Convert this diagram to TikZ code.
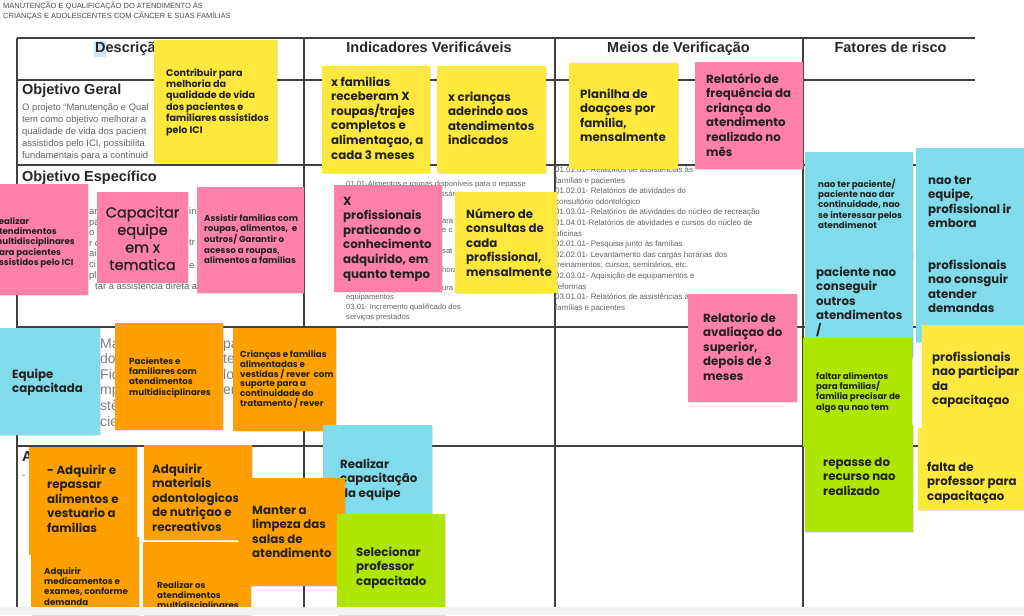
\documentclass[tikz,border=0pt]{standalone}
\usepackage{fontspec}
\setmainfont{Liberation Sans}
\newfontfamily\nf{Poppins}
\newfontfamily\nfm{Poppins}[FakeBold=0.9]
\usetikzlibrary{shadows}
\definecolor{ny}{HTML}{FFE83D}
\definecolor{np}{HTML}{FF80AA}
\definecolor{no}{HTML}{FF9F00}
\definecolor{nb}{HTML}{80DCEA}
\definecolor{ng}{HTML}{AEE600}
\definecolor{nt}{HTML}{222222}
\definecolor{tl}{HTML}{404040}
\definecolor{gt}{HTML}{5F6368}
\definecolor{strip}{HTML}{F1F3F4}
\definecolor{hl}{HTML}{D2E3FC}
\newcommand\mynote[6]{\node[note,fill=#2,anchor=north west,minimum width={(#5-#3)*1pt},minimum height={(#6-#4)*1pt}] (#1) at (#3,#4) {};}
\tikzset{
  note/.style={draw=none,inner sep=0pt,outer sep=0pt,drop shadow={shadow xshift=0.7pt,shadow yshift=-1.2pt,opacity=0.22}},
  bigt/.style={font=\nf\bfseries\fontsize{11.8}{14.6}\selectfont,align=left,anchor=base west,inner sep=0pt,text=nt},
  midt/.style={font=\nf\bfseries\fontsize{9.6}{11.4}\selectfont,align=left,anchor=base west,inner sep=0pt,text=nt},
  smallt/.style={font=\nf\bfseries\fontsize{8.7}{10.2}\selectfont,align=left,anchor=base west,inner sep=0pt,text=nt},
  hugt/.style={font=\nfm\fontsize{14.5}{17.5}\selectfont,align=center,anchor=base,inner sep=0pt,text=nt},
  tline/.style={draw=tl,line width=1.2pt},
  head/.style={font=\bfseries\fontsize{14.5}{17}\selectfont,anchor=base,inner sep=0pt,text=black!85},
  rowh/.style={font=\bfseries\fontsize{14.5}{17}\selectfont,anchor=base west,inner sep=0pt,text=black!85},
  body/.style={font=\fontsize{9.4}{12.2}\selectfont,align=left,anchor=base west,inner sep=0pt,text=gt},
  frag/.style={font=\fontsize{9.4}{10.6}\selectfont,align=left,anchor=base west,inner sep=0pt,text=gt},
  bigfrag/.style={font=\fontsize{14}{15.6}\selectfont,align=left,anchor=base west,inner sep=0pt,text=gray},
  tiny/.style={font=\fontsize{7.6}{9.8}\selectfont,align=left,anchor=base west,inner sep=0pt,text=gt},
  meios/.style={font=\fontsize{7.9}{10.6}\selectfont,align=left,anchor=base west,inner sep=0pt,text=gt},
  ttl/.style={font=\fontsize{7.5}{10}\selectfont,align=left,anchor=base west,inner sep=0pt,text=black!70}
}
\begin{document}
\begin{tikzpicture}[x=1pt,y=-1pt]
\useasboundingbox (0,0) rectangle (1024,615);
\clip (0,0) rectangle (1024,615);
\fill[white] (0,0) rectangle (1024,615);
% title (anchor = baseline of last line)
\node[ttl] (title) at (3,18.5) {MANUTENÇÃO E QUALIFICAÇÃO DO ATENDIMENTO ÀS\\CRIANÇAS E ADOLESCENTES COM CÂNCER E SUAS FAMÍLIAS};
% table grid
\draw[tline] (17,38) -- (975,38);
\foreach \yy in {80,165,327,446} \draw[tline] (17,\yy) -- (975,\yy);
\foreach \xx in {17,304,555,803} \draw[tline] (\xx,38) -- (\xx,607);
% headers
\fill[hl] (94,41) rectangle (106,57);
\node[rowh] (hdesc) at (95,53) {Descrição};
\node[head] (hind) at (429,53) {Indicadores Verificáveis};
\node[head] (hmeios) at (678.5,53) {Meios de Verificação};
\node[head] (hfat) at (890.5,53) {Fatores de risco};
% row labels and body text
\node[rowh] (og) at (22,95) {Objetivo Geral};
\node[body] (ogtext) at (22,158.8) {O projeto “Manutenção e Qual\\tem como objetivo melhorar a\\qualidade de vida dos pacient\\assistidos pelo ICI, possibilita\\fundamentais para a continuid};
\node[rowh] (oe) at (22,181.5) {Objetivo Específico};
\node[frag] (fa) at (89,278.1) {ar\\pa\\o\\r o\\ai\\ci\\pl};
\node[frag] (fb) at (189,214.5) {in};
\node[frag] (fc) at (189,245.5) {tr};
\node[frag] (fd) at (189,268.5) {e};
\node[frag] (fe) at (95,289.5) {tar a assistência direta aos};
\node[bigfrag] (rf1) at (100,426) {Ma\\dos\\Fid\\mp\\stê\\cie};
\node[bigfrag] (rf2) at (223,394.8) {pa\\te\\lo\\erv};
\node[rowh] (act) at (22,461) {A};
\node[body] (dash) at (22,478) {-};
% indicadores row 2 text
\node[tiny] (i1) at (346,186) {01.01-Alimentos e roupas disponíveis para o repasse};
\node[tiny] (i2) at (424,196) {necessários};
\node[tiny] (i3) at (442,223) {ara};
\node[tiny] (i4) at (442,232.5) {e c};
\node[tiny] (i5) at (442,253) {sat};
\node[tiny] (i6) at (442,272.5) {hora};
\node[tiny] (i7) at (442,290.5) {ura e};
\node[tiny] (i8) at (346,319.1) {equipamentos\\03.01- Incremento qualificado dos\\serviços prestados};
% meios row 2 text
\node[meios] (m1) at (555,310.3) {01.01.01- Relatórios de assistências às\\famílias e pacientes\\01.02.01- Relatórios de atividades do\\consultório odontológico\\01.03.01- Relatórios de atividades do núcleo de recreação\\01.04.01-Relatórios de atividades e cursos do núcleo de\\oficinas\\02.01.01- Pesquisa junto às famílias\\02.02.01- Levantamento das cargas horárias dos\\treinamentos, cursos, seminários, etc.\\02.03.01- Aquisição de equipamentos e\\reformas\\03.01.01- Relatórios de assistências às\\famílias e pacientes};
% ---- sticky notes ----
\mynote{n1}{ny}{154}{40}{277}{163}
\node[midt] (n1t) at (166,133) {Contribuir para\\melhoria da\\qualidade de vida\\dos pacientes e\\familiares assistidos\\pelo ICI};
\mynote{n2}{ny}{322}{66}{430}{173}
\node[bigt] (n2t) at (331,159) {x familias\\receberam X\\roupas/trajes\\completos e\\alimentaçao, a\\cada 3 meses};
\mynote{n3}{ny}{437}{66}{546}{173}
\node[bigt] (n3t) at (448,144.8) {x crianças\\aderindo aos\\atendimentos\\indicados};
\mynote{n4}{ny}{569}{63}{678}{169}
\node[bigt] (n4t) at (580,141.8) {Planilha de\\doaçoes por\\familia,\\mensalmente};
\mynote{n5}{np}{695}{62}{803}{169}
\node[bigt] (n5t) at (706,156) {Relatório de\\frequência da\\criança do\\atendimento\\realizado no\\mês};
\mynote{n6}{np}{-10}{184}{88}{295}
\node[smallt] (n6t) at (-7,265.3) {Realizar\\atendimentos\\multidisciplinares\\para pacientes\\assistidos pelo ICI};
\mynote{n7}{np}{97}{192}{188}{283}
\node[hugt] (n7t) at (142.5,270) {Capacitar\\equipe\\em x\\tematica};
\mynote{n8}{np}{197}{187}{304}{293}
\node[smallt] (n8t) at (204,263.2) {Assistir familias com\\roupas, alimentos,\ \ e\\outros/ Garantir o\\acesso a roupas,\\alimentos a familias};
\mynote{n9}{np}{334}{185}{442}{292}
\node[bigt] (n9t) at (343,278) {X\\profissionais\\praticando o\\conhecimento\\adquirido, em\\quanto tempo};
\mynote{n10}{ny}{455}{192}{557}{293}
\node[bigt] (n10t) at (466,276.4) {Número de\\consultas de\\cada\\profissional,\\mensalmente};
\mynote{n11}{np}{688}{294}{797}{402}
\node[bigt] (n11t) at (703,380.4) {Relatorio de\\avaliaçao do\\superior,\\depois de 3\\meses};
% risk column
\mynote{a1}{nb}{805}{152}{913}{258}
\node[smallt] (a1t) at (818,228.2) {nao ter paciente/\\paciente nao dar\\continuidade, nao\\se interessar pelos\\atendimenot};
\mynote{a2}{nb}{805}{250}{913}{357}
\node[bigt] (a2t) at (816,334.4) {paciente nao\\conseguir\\outros\\atendimentos\\/};
\mynote{b1}{nb}{916}{148}{1030}{257}
\node[bigt] (b1t) at (928,227.8) {nao ter\\equipe,\\profissional ir\\embora};
\mynote{b2}{nb}{916}{232}{1030}{342}
\node[bigt] (b2t) at (928,312.8) {profissionais\\nao consguir\\atender\\demandas};
\mynote{g1}{ng}{803}{338}{912}{447}
\node[smallt] (g1t) at (816,410) {faltar alimentos\\para familias/\\familia precisar de\\algo qu nao tem};
\mynote{g2}{ng}{805}{425}{913}{532}
\node[bigt] (g2t) at (823,495.2) {repasse do\\recurso nao\\realizado};
\mynote{y1}{ny}{922}{325}{1030}{435}
\node[bigt] (y1t) at (932,404.8) {profissionais\\nao participar\\da\\capacitaçao};
\mynote{y2}{ny}{918}{428}{1030}{510}
\node[bigt] (y2t) at (927,500.2) {falta de\\professor para\\capacitaçao};
% row 3
\mynote{e1}{nb}{-5}{328}{100}{435}
\node[bigt] (e1t) at (12,392.6) {Equipe\\capacitada};
\mynote{o17}{no}{115}{323}{223}{430}
\node[smallt] (o17t) at (129,395) {Pacientes e\\familiares com\\atendimentos\\multidisciplinares};
\mynote{o18}{no}{233}{328}{336}{431}
\node[smallt,font=\nf\bfseries\fontsize{8.7}{9.85}\selectfont] (o18t) at (240,406.6) {Crianças e familias\\alimentadas e\\vestidas / rever\ \ com\\suporte para a\\continuidade do\\tratamento / rever};
% row 4
\mynote{o19}{no}{29}{447}{137}{555}
\node[bigt] (o19t) at (47,532.4) {- Adquirir e\\repassar\\alimentos e\\vestuario a\\familias};
\mynote{o20}{no}{31}{537}{139}{615}
\node[smallt] (o20t) at (44,605) {Adquirir\\medicamentos e\\exames, conforme\\demanda};
\mynote{o21}{no}{144}{445}{252}{540}
\node[bigt] (o21t) at (152,531.4) {Adquirir\\materiais\\odontologicos\\de nutriçao e\\recreativos};
\mynote{o22}{no}{143}{542}{251}{615}
\node[smallt] (o22t) at (157,608.8) {Realizar os\\atendimentos\\multidisciplinares};
\mynote{b24}{nb}{323}{425}{432}{515}
\node[bigt] (b24t) at (340,497.2) {Realizar\\capacitação\\da equipe};
\mynote{o23}{no}{238}{478}{345}{586}
\node[bigt] (o23t) at (252,557.8) {Manter a\\limpeza das\\salas de\\atendimento};
\mynote{g25}{ng}{337}{514}{445}{615}
\node[bigt] (g25t) at (356,585.2) {Selecionar\\professor\\capacitado};
% bottom strip
\fill[strip] (0,607) rectangle (1024,615);
\end{tikzpicture}
\end{document}
